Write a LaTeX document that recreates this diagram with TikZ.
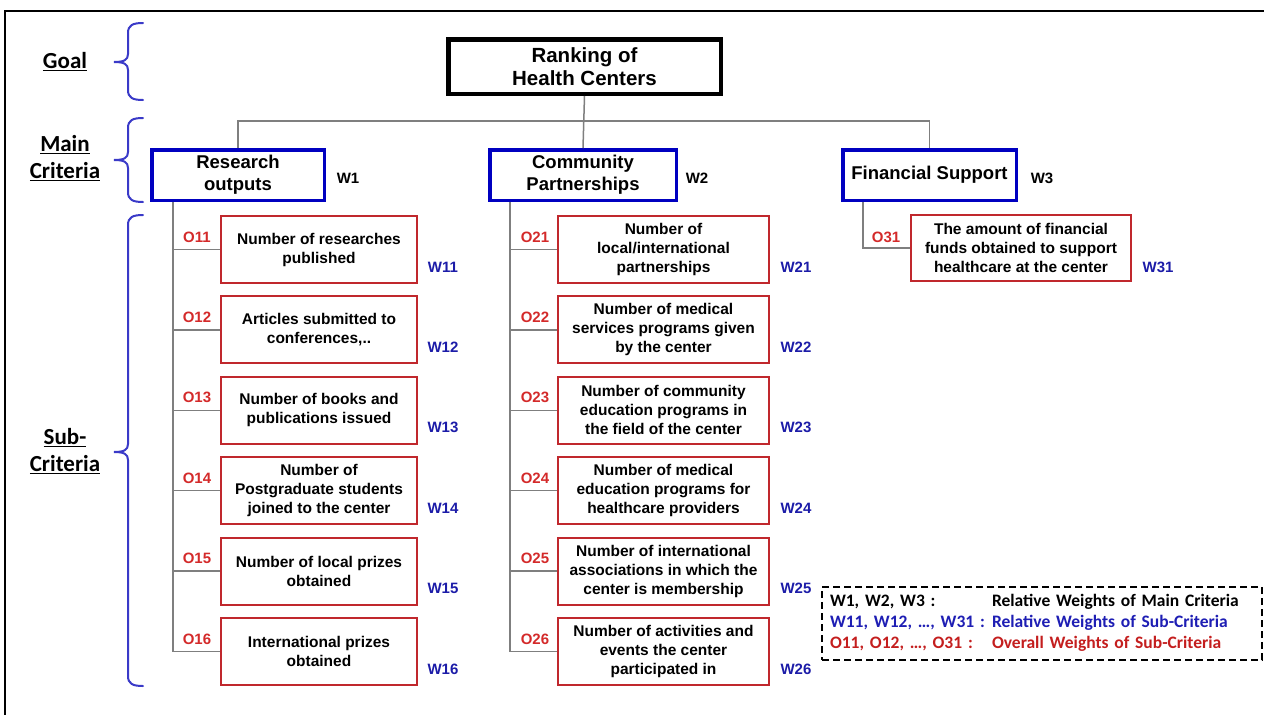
\documentclass[tikz,border=0pt]{standalone}
\usepackage{fontspec}
\setmainfont{Liberation Sans}
\newfontfamily\calibfont{Carlito}
\usetikzlibrary{calc}

\definecolor{boxred}{HTML}{C0282D}
\definecolor{lblred}{HTML}{D42A2A}
\definecolor{lblblue}{HTML}{1C1CA8}
\definecolor{boxblue}{HTML}{0000C0}
\definecolor{brblue}{HTML}{3A3AC8}
\definecolor{conngray}{HTML}{7F7F7F}
\definecolor{legred}{HTML}{C41E1E}
\definecolor{legblue}{HTML}{1E1EB4}

\newcommand\levelbrace[3]{\draw[bracestyle] (143,#1) .. controls (133,#1) and (128,{#1+2}) .. (128,{#1+10}) -- (128,{#2-8}) .. controls (128,{#2-2}) and (124,#2) .. (114,#2) .. controls (124,#2) and (128,{#2+2}) .. (128,{#2+8}) -- (128,{#3-10}) .. controls (128,{#3-2}) and (133,#3) .. (143,#3);}

\begin{document}
\begin{tikzpicture}[x=1pt,y=-1pt,
  goalbox/.style={draw=black, line width=4.5pt, minimum width=272.5pt, minimum height=54.5pt, align=center, font=\bfseries\fontsize{20.5}{23}\selectfont, inner sep=0pt},
  mainbox/.style={draw=boxblue, line width=3.5pt, minimum height=50.5pt, align=center, font=\bfseries\fontsize{18.5}{22}\selectfont, inner sep=0pt},
  subbox/.style={draw=boxred, line width=2pt, minimum height=67pt, align=center, font=\bfseries\fontsize{15.5}{19}\selectfont, inner sep=0pt},
  leftbox/.style={subbox, minimum width=196pt},
  midbox/.style={subbox, minimum width=211pt},
  olbl/.style={text=lblred, font=\bfseries\fontsize{15}{15}\selectfont, inner sep=0pt},
  wlbl/.style={text=lblblue, font=\bfseries\fontsize{15}{15}\selectfont, inner sep=0pt},
  mwlbl/.style={text=black, font=\bfseries\fontsize{15}{15}\selectfont, inner sep=0pt},
  levellbl/.style={font=\calibfont\bfseries\fontsize{23}{27}\selectfont, align=center, inner sep=0pt},
  conn/.style={draw=conngray, line width=1.5pt},
  bracestyle/.style={draw=brblue, line width=2pt, line cap=round}
]
\useasboundingbox (0,0) rectangle (1264,715);
\fill[white] (0,0) rectangle (1264,715);
% outer frame
\draw[line width=2pt] (5,716) -- (5,11) -- (1265,11);

% level labels and braces
\node[levellbl] (lgoal) at (65,62) {\underline{Goal}};
\node[levellbl] (lmain) at (65,158.5) {\underline{Main}\\\underline{Criteria}};
\node[levellbl] (lsub) at (65,451) {\underline{Sub-}\\\underline{Criteria}};
\levelbrace{23}{62}{100}
\levelbrace{118}{160}{202}
\levelbrace{215}{452}{686}

% goal
\node[goalbox] (top) at (584.5,66.5) {Ranking of\\Health Centers};

% main criteria
\node[mainbox, minimum width=172.5pt] (res) at (238,175) {Research\\outputs};
\node[mainbox, minimum width=186.5pt] (com) at (583,175) {Community\\Partnerships};
\node[mainbox, minimum width=173.5pt] (fin) at (929.5,175) {Financial Support};
\node[mwlbl] (w1) at (348,178) {W1};
\node[mwlbl] (w2) at (697,178) {W2};
\node[mwlbl] (w3) at (1042,178) {W3};

\coordinate (hb) at (583,121);
\draw[conn] (top.south) -- (com.north);
\draw[conn] (res.north) |- (hb) -| (fin.north);

% sub-criteria, research
\node[leftbox] (s11) at (319,249.5) {Number of researches\\published};
\node[leftbox] (s12) at (319,329.9) {Articles submitted to\\conferences,..};
\node[leftbox] (s13) at (319,410.3) {Number of books and\\publications issued};
\node[leftbox] (s14) at (319,490.7) {Number of\\Postgraduate students\\joined to the center};
\node[leftbox] (s15) at (319,571.1) {Number of local prizes\\obtained};
\node[leftbox] (s16) at (319,651.5) {International prizes\\obtained};

% sub-criteria, community
\node[midbox] (s21) at (663.5,249.5) {Number of\\local/international\\partnerships};
\node[midbox] (s22) at (663.5,329.9) {Number of medical\\services programs given\\by the center};
\node[midbox] (s23) at (663.5,410.3) {Number of community\\education programs in\\the field of the center};
\node[midbox] (s24) at (663.5,490.7) {Number of medical\\education programs for\\healthcare providers};
\node[midbox] (s25) at (663.5,571.1) {Number of international\\associations in which the\\center is membership};
\node[midbox] (s26) at (663.5,651.5) {Number of activities and\\events the center\\participated in};

% sub-criteria, financial
\node[subbox, minimum width=220pt, minimum height=66pt] (s31) at (1021,248) {The amount of financial\\funds obtained to support\\healthcare at the center};

% vertical connectors
\coordinate (rv) at (173,0);
\coordinate (cv) at (510,0);
\coordinate (fv) at (863,0);
\draw[conn] (rv |- res.south) -- (rv |- s16.west);
\draw[conn] (cv |- com.south) -- (cv |- s26.west);
\draw[conn] (fv |- fin.south) -- (fv |- s31.west) -- (s31.west);
\foreach \i in {1,...,6}{
  \draw[conn] (rv |- s1\i.west) -- (s1\i.west);
  \draw[conn] (cv |- s2\i.west) -- (s2\i.west);
}

% O and W labels
\foreach \i/\y in {1/249.5,2/329.9,3/410.3,4/490.7,5/571.1,6/651.5}{
  \node[olbl] (o1\i) at (197,{\y-12.5}) {O1\i};
  \node[wlbl] (w1\i) at (443,{\y+17.5}) {W1\i};
  \node[olbl] (o2\i) at (535,{\y-12.5}) {O2\i};
  \node[wlbl] (w2\i) at (796,{\y+17.5}) {W2\i};
}
\node[olbl] (o31) at (886,237) {O31};
\node[wlbl] (w31) at (1158,267) {W31};

% legend
\node[draw=black, dashed, dash pattern=on 7pt off 4pt, line width=2pt, anchor=north west,
      minimum width=440pt, minimum height=73pt, text width=424pt, inner xsep=8pt, inner ysep=0pt,
      align=left, font=\calibfont\bfseries\fontsize{17.5}{22}\selectfont] (legend) at (821,586)
{\begin{tabular}{@{}p{162pt}@{}l@{}}
W1, W2, W3 : & Relative Weights of Main Criteria\\[-1pt]
\textcolor{legblue}{W11, W12, \dots, W31 :} & \textcolor{legblue}{Relative Weights of Sub-Criteria}\\[-1pt]
\textcolor{legred}{O11, O12, \dots, O31 :} & \textcolor{legred}{Overall Weights of Sub-Criteria}
\end{tabular}};
\end{tikzpicture}
\end{document}
